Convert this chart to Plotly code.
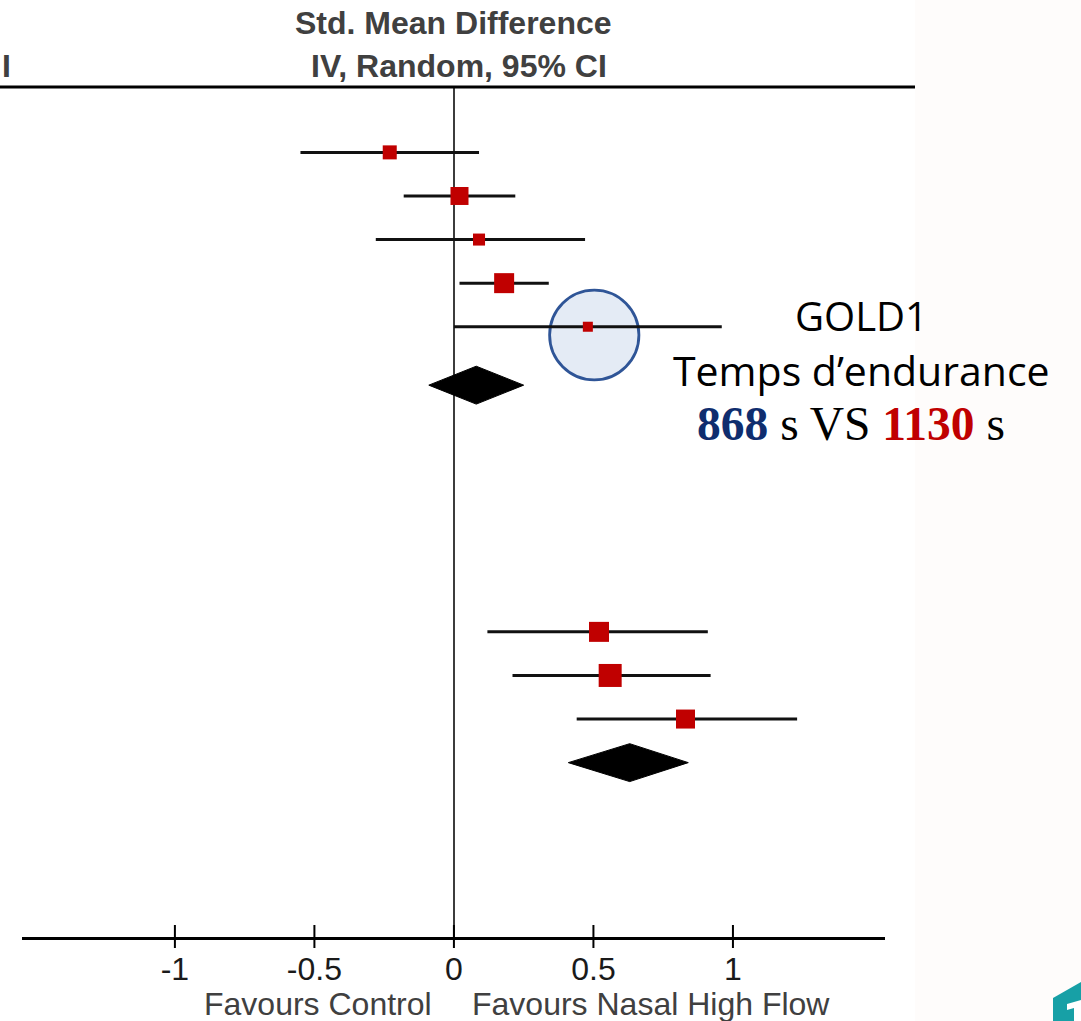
import plotly.graph_objects as go

# ---------------- data ----------------
study_row = [0, 1, 2, 3, 4, 11, 12, 13]
study_smd = [-0.23, 0.02, 0.09, 0.18, 0.48, 0.52, 0.56, 0.83]
study_lo = [-0.55, -0.18, -0.28, 0.02, 0.00, 0.12, 0.21, 0.44]
study_hi = [0.09, 0.22, 0.47, 0.34, 0.96, 0.91, 0.92, 1.23]
study_weight = [17.0, 28.0, 12.5, 34.6, 8.7, 34.6, 45.8, 31.2]

pooled_row = [5.34, 14]
pooled_smd = [0.08, 0.63]
pooled_lo = [-0.09, 0.41]
pooled_hi = [0.25, 0.84]

tick_vals = [-1, -0.5, 0, 0.5, 1]
tick_text = ["-1", "-0.5", "0", "0.5", "1"]

highlight_smd = 0.503      # circled study
highlight_row = 4.19

# ---------------- styling ----------------
W, H = 1081, 1021
ML, MR, MT, MB = 22, 196, 87, 84
PW, PH = W - ML - MR, H - MT - MB
XR = [-1.548, 1.545]
YR = [18.0, -1.5]
SANS = "Liberation Sans, Arial, sans-serif"
RED = "#c00000"


def px_x(p):
    return (p - ML) / PW


def px_y(p):
    return (MT + PH - p) / PH


fig = go.Figure()

# CI lines
cx, cy = [], []
for r, lo, hi in zip(study_row, study_lo, study_hi):
    cx += [lo, hi, None]
    cy += [r, r, None]
fig.add_trace(go.Scatter(x=cx, y=cy, mode="lines",
                         line=dict(color="#111111", width=3),
                         hoverinfo="skip", showlegend=False))

# squares (area proportional to weight)
sizes = [3.4 * w ** 0.5 for w in study_weight]
fig.add_trace(go.Scatter(x=study_smd, y=study_row, mode="markers",
                         marker=dict(symbol="square", size=sizes, color=RED,
                                     opacity=1, line=dict(width=0)),
                         showlegend=False))

# pooled diamonds
dh = 0.435
for r, m, lo, hi in zip(pooled_row, pooled_smd, pooled_lo, pooled_hi):
    fig.add_trace(go.Scatter(x=[lo, m, hi, m, lo], y=[r, r - dh, r, r + dh, r],
                             mode="lines", fill="toself", fillcolor="black",
                             line=dict(color="black", width=1),
                             hoverinfo="skip", showlegend=False))

# faint background band on the right
fig.add_shape(type="rect", xref="paper", yref="paper", layer="below",
              x0=px_x(915), x1=px_x(1081), y0=px_y(1021), y1=px_y(0),
              fillcolor="#fefcfb", line=dict(width=0))

# circle highlight
rad_x = 0.16
rad_y = 1.03
fig.add_shape(type="circle", xref="x", yref="y", layer="below",
              x0=highlight_smd - rad_x, x1=highlight_smd + rad_x,
              y0=highlight_row - rad_y, y1=highlight_row + rad_y,
              fillcolor="#e4ebf5", line=dict(color="#2f5597", width=2.8))

# header line
fig.add_shape(type="line", xref="paper", yref="paper",
              x0=px_x(0), x1=px_x(915), y0=1, y1=1,
              line=dict(color="black", width=3))

# tick marks crossing the axis line
for v in tick_vals:
    fig.add_shape(type="line", xref="x", yref="paper", x0=v, x1=v,
                  y0=-11 / PH, y1=12 / PH,
                  line=dict(color="black", width=2))

# teal corner decoration
tx = [px_x(v) for v in (1053, 1081, 1081, 1053)]
ty = [px_y(v) for v in (998, 982, 1021, 1021)]
fig.add_shape(type="path", xref="paper", yref="paper",
              path="M {} {} L {} {} L {} {} L {} {} Z".format(
                  tx[0], ty[0], tx[1], ty[1], tx[2], ty[2], tx[3], ty[3]),
              fillcolor="#17a0a6", line=dict(width=0))
wx = [px_x(v) for v in (1067, 1081, 1081, 1074, 1074, 1067)]
wy = [px_y(v) for v in (1004, 1000, 1021, 1021, 1008, 1010)]
fig.add_shape(type="path", xref="paper", yref="paper",
              path="M " + " L ".join("{} {}".format(a, b) for a, b in zip(wx, wy)) + " Z",
              fillcolor="white", line=dict(width=0))


def txt(text, x, y, size, color, family=SANS, xanchor="center"):
    return dict(text=text, x=px_x(x), xref="paper", y=px_y(y), yref="paper",
                xanchor=xanchor, yanchor="middle", showarrow=False,
                font=dict(family=family, size=size, color=color))


ann = [
    txt("<b>Std. Mean Difference</b>", 453, 23, 32, "#404040"),
    txt("<b>IV, Random, 95% CI</b>", 459, 66, 32, "#404040"),
    txt("<b>I</b>", 6, 66, 32, "#404040"),
    txt("Favours Control", 434, 1004, 32, "#404040", xanchor="right"),
    txt("Favours Nasal High Flow", 470, 1004, 32, "#404040", xanchor="left"),
    txt("GOLD1", 861, 315, 40, "black", family="Open Sans, Lato, sans-serif"),
    txt("Temps d\u2019endurance", 861, 370, 41, "black",
        family="Open Sans, Lato, sans-serif"),
    txt("<b><span style='color:#0f2d6e'>868</span></b> s VS "
        "<b><span style='color:#c00000'>1130</span></b> s", 851, 424, 47.5,
        "black", family="Liberation Serif, Times New Roman, serif"),
]

fig.update_layout(
    width=W, height=H,
    margin=dict(l=ML, r=MR, t=MT, b=MB),
    paper_bgcolor="white", plot_bgcolor="white",
    annotations=ann,
    xaxis=dict(range=XR, tickvals=tick_vals, ticktext=tick_text,
               ticks="", showline=True, linecolor="black", linewidth=3,
               showgrid=False, zeroline=True, zerolinecolor="#3c3c3c",
               zerolinewidth=2, ticklabelstandoff=2,
               tickfont=dict(family=SANS, size=32, color="#1a1a1a")),
    yaxis=dict(range=YR, visible=False, showgrid=False, zeroline=False),
)

fig.write_html("out.html", config={"displayModeBar": False},
               post_script="document.body.style.margin='0';"
                           "document.body.style.overflow='hidden';")
